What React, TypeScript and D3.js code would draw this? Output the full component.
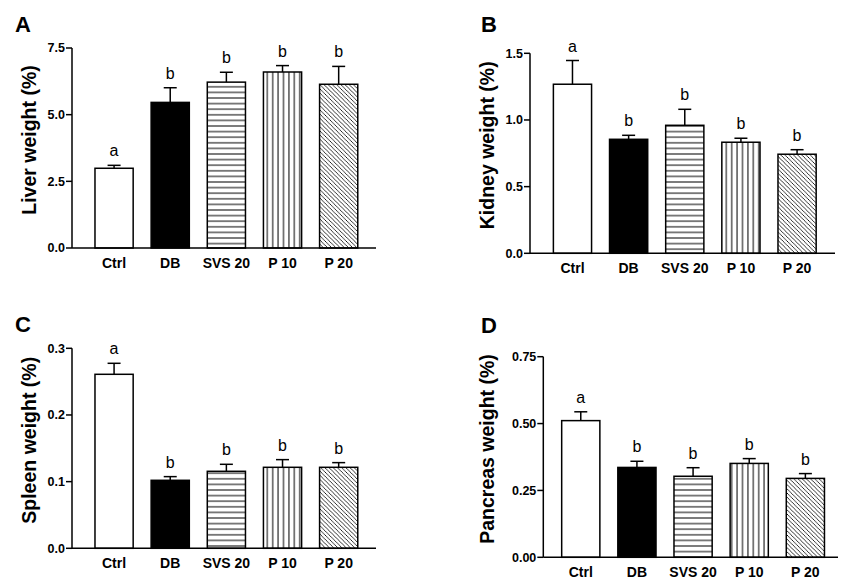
import React from "react";
import * as d3 from "d3";

const categories = ["Ctrl", "DB", "SVS 20", "P 10", "P 20"];

const liverMean = [2.99, 5.46, 6.22, 6.6, 6.14];
const liverErr = [0.11, 0.55, 0.37, 0.24, 0.67];
const liverLetters = ["a", "b", "b", "b", "b"];
const liverTicks = [0, 2.5, 5.0, 7.5];

const kidneyMean = [1.268, 0.855, 0.96, 0.833, 0.743];
const kidneyErr = [0.178, 0.03, 0.12, 0.03, 0.034];
const kidneyLetters = ["a", "b", "b", "b", "b"];
const kidneyTicks = [0, 0.5, 1.0, 1.5];

const spleenMean = [0.261, 0.102, 0.1155, 0.1215, 0.1215];
const spleenErr = [0.0165, 0.0055, 0.0105, 0.0115, 0.007];
const spleenLetters = ["a", "b", "b", "b", "b"];
const spleenTicks = [0, 0.1, 0.2, 0.3];

const pancreasMean = [0.511, 0.336, 0.303, 0.351, 0.295];
const pancreasErr = [0.033, 0.023, 0.032, 0.018, 0.018];
const pancreasLetters = ["a", "b", "b", "b", "b"];
const pancreasTicks = [0, 0.25, 0.5, 0.75];

const fills = ["#ffffff", "#000000", "url(#hpat)", "url(#vpat)", "url(#dpat)"];

const FONT = "'Liberation Sans', Arial, sans-serif";

type PanelProps = {
  letter: string;
  letterX: number;
  letterY: number;
  title: string;
  titleX: number;
  axisX: number;
  axisEnd: number;
  bandStart: number;
  y0: number;
  y1: number;
  yMax: number;
  ticks: number[];
  tickFmt: (v: number) => string;
  means: number[];
  errs: number[];
  letters: string[];
};

function Panel(p: PanelProps) {
  const step = 56.15;
  const x = d3
    .scaleBand<string>()
    .domain(categories)
    .range([p.bandStart, p.bandStart + step * categories.length])
    .paddingInner(0.32)
    .paddingOuter(0.16);
  const y = d3.scaleLinear().domain([0, p.yMax]).range([p.y0, p.y1]);
  const bw = x.bandwidth();
  const titleCy = (p.y0 + p.y1) / 2 - 8;
  return (
    <g>
      <text x={p.letterX} y={p.letterY} fontFamily={FONT} fontWeight="bold" fontSize={22}>
        {p.letter}
      </text>
      <text
        transform={`translate(${p.titleX},${titleCy}) rotate(-90)`}
        textAnchor="middle"
        fontFamily={FONT}
        fontWeight="bold"
        fontSize={19.5}
      >
        {p.title}
      </text>
      {categories.map((c, i) => {
        const bx = x(c)!;
        const top = y(p.means[i]);
        const et = y(p.means[i] + p.errs[i]);
        const cx = bx + bw / 2;
        return (
          <g key={c}>
            <line x1={cx} x2={cx} y1={top} y2={et} stroke="#000" strokeWidth={1.5} />
            <line x1={cx - 6.5} x2={cx + 6.5} y1={et} y2={et} stroke="#000" strokeWidth={1.5} />
            <rect
              x={bx}
              y={top}
              width={bw}
              height={p.y0 - top}
              fill={fills[i]}
              stroke="#000"
              strokeWidth={1.5}
            />
            <text
              x={cx}
              y={et - 9}
              textAnchor="middle"
              fontFamily={FONT}
              fontSize={16}
            >
              {p.letters[i]}
            </text>
            <text
              x={cx}
              y={p.y0 + 20}
              textAnchor="middle"
              fontFamily={FONT}
              fontWeight="bold"
              fontSize={14}
            >
              {c}
            </text>
          </g>
        );
      })}
      <line x1={p.axisX} x2={p.axisX} y1={p.y0} y2={y(p.yMax)} stroke="#000" strokeWidth={1.5} />
      <line x1={p.axisX} x2={p.axisEnd} y1={p.y0} y2={p.y0} stroke="#000" strokeWidth={1.5} />
      {p.ticks.map((t) => (
        <g key={t}>
          <line x1={p.axisX - 6} x2={p.axisX} y1={y(t)} y2={y(t)} stroke="#000" strokeWidth={1.5} />
          <text
            x={p.axisX - 7}
            y={y(t)}
            dy="0.35em"
            textAnchor="end"
            fontFamily={FONT}
            fontWeight="bold"
            fontSize={12.5}
          >
            {p.tickFmt(t)}
          </text>
        </g>
      ))}
    </g>
  );
}

export default function App() {
  const f1 = d3.format(".1f");
  const f2 = d3.format(".2f");
  return (
    <svg
      width={847}
      height={583}
      style={{ position: "absolute", left: 0, top: 0, background: "#fff" }}
    >
      <defs>
        <pattern id="hpat" patternUnits="userSpaceOnUse" width={6} height={5.6}>
          <rect width={6} height={5.6} fill="#fff" />
          <line x1={0} x2={6} y1={2.8} y2={2.8} stroke="#000" strokeWidth={1} />
        </pattern>
        <pattern id="vpat" patternUnits="userSpaceOnUse" width={5.4} height={6}>
          <rect width={5.4} height={6} fill="#fff" />
          <line x1={2.7} x2={2.7} y1={0} y2={6} stroke="#000" strokeWidth={1} />
        </pattern>
        <pattern id="dpat" patternUnits="userSpaceOnUse" width={4.2} height={4.2}>
          <rect width={4.2} height={4.2} fill="#fff" />
          <path d="M-1,-1 L5.2,5.2 M-1,3.2 L1,5.2 M3.2,-1 L5.2,1" stroke="#000" strokeWidth={0.8} />
        </pattern>
      </defs>
      <Panel
        letter="A" letterX={15} letterY={32}
        title="Liver weight (%)" titleX={36}
        axisX={72} axisEnd={376} bandStart={86}
        y0={248} y1={48} yMax={7.5}
        ticks={liverTicks} tickFmt={f1}
        means={liverMean} errs={liverErr} letters={liverLetters}
      />
      <Panel
        letter="B" letterX={481} letterY={32}
        title="Kidney weight (%)" titleX={494}
        axisX={530} axisEnd={835} bandStart={544.4}
        y0={253.3} y1={53.3} yMax={1.5}
        ticks={kidneyTicks} tickFmt={f1}
        means={kidneyMean} errs={kidneyErr} letters={kidneyLetters}
      />
      <Panel
        letter="C" letterX={15} letterY={332}
        title="Spleen weight (%)" titleX={36}
        axisX={72} axisEnd={376} bandStart={86}
        y0={548.3} y1={348.3} yMax={0.3}
        ticks={spleenTicks} tickFmt={f1}
        means={spleenMean} errs={spleenErr} letters={spleenLetters}
      />
      <Panel
        letter="D" letterX={481} letterY={333}
        title="Pancreas weight (%)" titleX={494}
        axisX={543.3} axisEnd={838} bandStart={552.7}
        y0={557.3} y1={356.7} yMax={0.75}
        ticks={pancreasTicks} tickFmt={f2}
        means={pancreasMean} errs={pancreasErr} letters={pancreasLetters}
      />
    </svg>
  );
}
